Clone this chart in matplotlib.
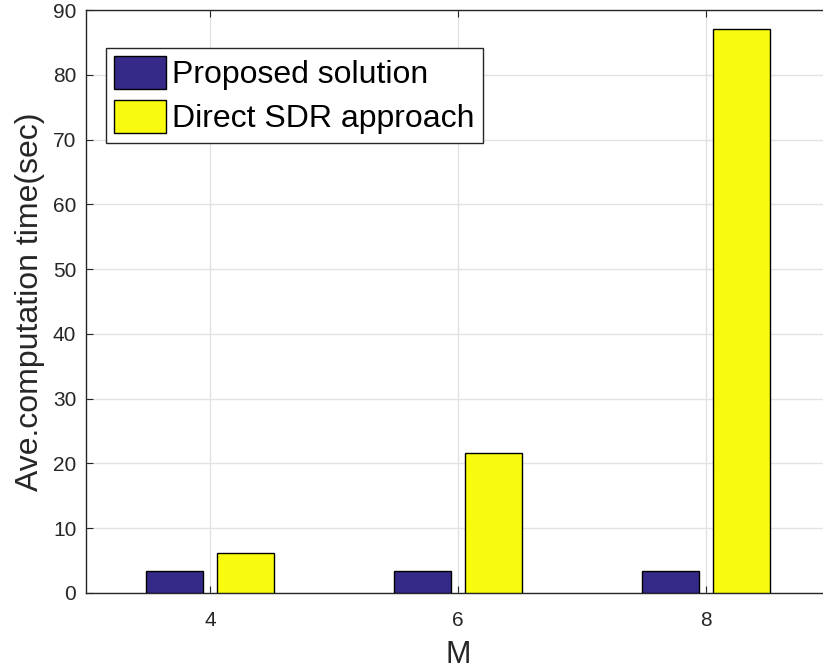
import matplotlib
matplotlib.use('Agg')
import matplotlib.pyplot as plt
import numpy as np

# ========== data ==========
M_VALUES = [4, 6, 8]
PROPOSED = [3.35, 3.4, 3.4]
DIRECT_SDR = [6.2, 21.6, 87.1]
SERIES_NAMES = ['Proposed solution', 'Direct SDR approach']

plt.rcParams.update({
    'font.family': ['Liberation Sans', 'DejaVu Sans'],
})

W, H = 823, 672
fig = plt.figure(figsize=(W / 100, H / 100), dpi=100)
# axes run a bit past the right edge like the original export
ax = fig.add_axes([86 / W, (H - 593) / H, (830 - 86) / W, (593 - 10) / H])

x = np.array(M_VALUES, dtype=float)
bw = 0.46
off = 0.286
ax.bar(x - off, PROPOSED, width=bw, color='#352a87', edgecolor='black',
       linewidth=1.0, label=SERIES_NAMES[0], zorder=3)
ax.bar(x + off, DIRECT_SDR, width=bw, color='#f9fb0e', edgecolor='black',
       linewidth=1.0, label=SERIES_NAMES[1], zorder=3)

ax.set_xlim(3, 9)
ax.set_ylim(0, 90)
ax.set_xticks(M_VALUES)
ax.set_yticks(np.arange(0, 91, 10))

ax.grid(True, color='#e3e3e3', linewidth=1.0, zorder=0)
ax.set_axisbelow(True)
ax.tick_params(direction='in', length=5, width=0.8, colors='#262626',
               labelsize=15, top=True, right=False)
ax.tick_params(axis='x', pad=13)
ax.tick_params(axis='y', pad=7)
for s in ['left', 'top', 'bottom']:
    ax.spines[s].set_color('#262626')
    ax.spines[s].set_linewidth(1.0)
ax.spines['right'].set_visible(False)

ax.set_xlabel('M', fontsize=22, color='#262626', labelpad=7)
ax.set_ylabel('Ave.computation time(sec)', fontsize=23, color='#262626', labelpad=6)

leg = ax.legend(loc='upper left', bbox_to_anchor=((106 - 86) / (830 - 86), (593 - 48) / (593 - 10)),
                fontsize=23, frameon=True, fancybox=False, framealpha=1,
                edgecolor='#262626', handlelength=1.63, handleheight=1.2,
                handletextpad=0.19, labelspacing=0.3, borderpad=0.26,
                borderaxespad=0)
leg.get_frame().set_linewidth(1.0)

fig.savefig('out.png', dpi=100)
